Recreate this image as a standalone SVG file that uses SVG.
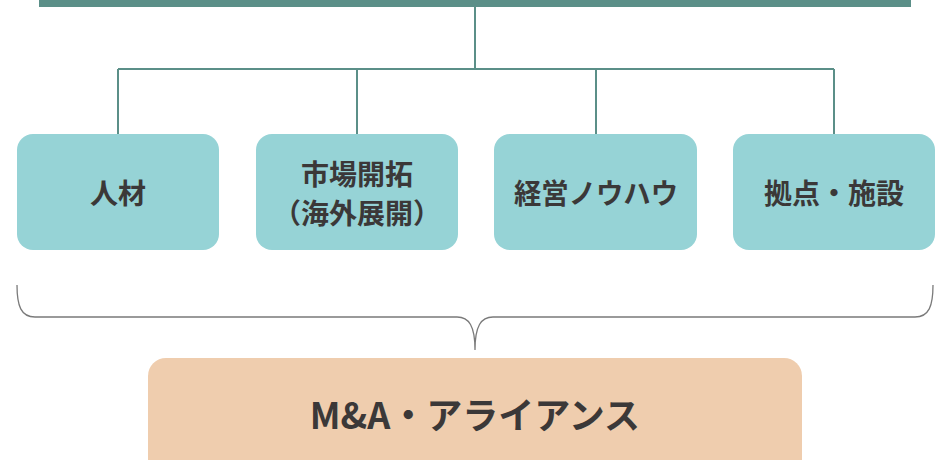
<svg xmlns="http://www.w3.org/2000/svg" width="943" height="460" viewBox="0 0 943 460">
<style>
.node{fill:#96d3d6}
.lbl{font-family:"Noto Sans CJK JP","Noto Sans",sans-serif;font-weight:bold;font-size:28px;fill:#3b3838;text-anchor:middle;dominant-baseline:central}
.conn{stroke:#5b8f88;stroke-width:2;fill:none}
</style>
<rect width="943" height="460" fill="#ffffff"/>
<g id="top-bar"><rect x="39" y="0" width="872" height="7" fill="#5b8f88"/></g>
<g id="connectors">
<path class="conn" d="M475,7 V69 M118,69 H834 M118,69 V134 M357,69 V134 M596,69 V134 M834,69 V134"/>
<path d="M17,285 C17,306 21,317 35,317 L457,317 C469,317 475,326 475,350 C475,326 481,317 493,317 L915,317 C929,317 933,306 933,285" fill="none" stroke="#7a7a7a" stroke-width="1.3"/>
</g>
<g id="n1"><rect class="node" x="17" y="134" width="202" height="116" rx="16"/><text class="lbl" x="118" y="192">人材</text></g>
<g id="n2"><rect class="node" x="256" y="134" width="202" height="116" rx="16"/><text class="lbl" x="357" y="173">市場開拓</text><text class="lbl" x="357" y="212">（海外展開）</text></g>
<g id="n3"><rect class="node" x="494" y="134" width="203" height="116" rx="16"/><text class="lbl" x="596" y="192" textLength="164" lengthAdjust="spacingAndGlyphs">経営ノウハウ</text></g>
<g id="n4"><rect class="node" x="733" y="134" width="202" height="116" rx="16"/><text class="lbl" x="834" y="192">拠点・施設</text></g>
<g id="n5"><rect x="148" y="358" width="654" height="120" rx="18" fill="#efcdae"/><text class="lbl" x="475" y="413" style="font-size:36px">M&amp;A・アライアンス</text></g>
</svg>
